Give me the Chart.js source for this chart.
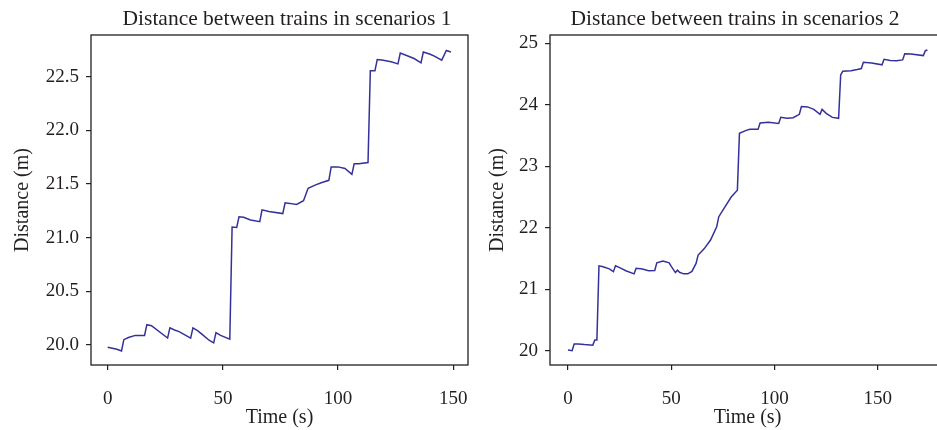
<!DOCTYPE html>
<html lang="en">
<head>
    <meta charset="UTF-8">
    <title>Distance between trains</title>
    <script src="https://cdn.jsdelivr.net/npm/chart.js"></script>
    <style>
        html, body { margin: 0; padding: 0; background: #fff; overflow: hidden; }
        body { width: 937px; height: 430px; position: relative; }
        #chart1 { position: absolute; left: 0; top: 0; }
        #chart2 { position: absolute; left: 470px; top: 0; }
    </style>
</head>
<body>
    <canvas id="chart1" width="480" height="430"></canvas>
    <canvas id="chart2" width="490" height="430"></canvas>

    <script>
        // Scenario 1: time (s) and distance (m)
        const time1 = [0, 2, 4, 6, 7, 9, 12, 16, 17, 19, 26, 27, 29, 31, 36, 37, 39, 41, 44, 46,
            47, 49, 53, 54, 56, 57, 59, 62, 66, 67, 70, 76, 77, 79, 82, 85, 87, 90, 93, 96,
            97, 100, 103, 106, 107, 109, 113, 114, 116, 117, 119, 123, 126, 127, 130, 133, 136, 137, 140, 142,
            145, 147, 149];
        const dist1 = [19.98, 19.97, 19.96, 19.945, 20.05, 20.07, 20.09, 20.09, 20.19, 20.18, 20.065, 20.16, 20.14, 20.125, 20.065, 20.16, 20.135, 20.10, 20.045, 20.02,
            20.115, 20.09, 20.055, 21.10, 21.095, 21.195, 21.19, 21.165, 21.15, 21.26, 21.245, 21.225, 21.325, 21.32, 21.31, 21.345, 21.46, 21.49, 21.515, 21.535,
            21.66, 21.66, 21.645, 21.59, 21.69, 21.69, 21.70, 22.555, 22.555, 22.66, 22.655, 22.64, 22.62, 22.72, 22.695, 22.67, 22.63, 22.73, 22.71, 22.69,
            22.655, 22.745, 22.73];

        // Scenario 2: time (s) and distance (m)
        const time2 = [0, 2, 3, 5, 8, 12, 13, 14, 15, 17, 20, 22, 23, 25, 28, 32, 33, 36, 39, 42,
            43, 46, 49, 50, 52, 53, 54, 56, 58, 60, 62, 63, 66, 69, 72, 73, 76, 79, 82, 83,
            86, 88, 92, 93, 97, 102, 103, 106, 109, 112, 113, 116, 119, 122, 123, 125, 128, 131, 132, 133,
            137, 140, 142, 143, 147, 152, 153, 156, 159, 162, 163, 166, 172, 173, 174];
        const dist2 = [20.01, 20.0, 20.11, 20.11, 20.10, 20.09, 20.175, 20.175, 21.38, 21.365, 21.33, 21.285, 21.38, 21.35, 21.30, 21.25, 21.34, 21.33, 21.30, 21.305,
            21.43, 21.46, 21.43, 21.37, 21.27, 21.31, 21.275, 21.25, 21.25, 21.29, 21.42, 21.555, 21.66, 21.80, 22.015, 22.18, 22.34, 22.50, 22.61, 23.535,
            23.58, 23.60, 23.60, 23.705, 23.715, 23.695, 23.795, 23.78, 23.79, 23.845, 23.97, 23.965, 23.925, 23.845, 23.925, 23.86, 23.795, 23.78, 24.485, 24.545,
            24.555, 24.575, 24.59, 24.69, 24.68, 24.65, 24.74, 24.72, 24.715, 24.73, 24.83, 24.825, 24.80, 24.88, 24.89];

        const xTicks1 = [0, 50, 100, 150];
        const yTicks1 = [20.0, 20.5, 21.0, 21.5, 22.0, 22.5];
        const xTicks2 = [0, 50, 100, 150];
        const yTicks2 = [20, 21, 22, 23, 24, 25];

        const titles = ['Distance between trains in scenarios 1', 'Distance between trains in scenarios 2'];

        const INK = '#231f20';
        const LINE = '#35319a';
        const FONT = '"Liberation Serif", "Times New Roman", serif';

        // draws the frame round the plot area and the panel title
        const framePlugin = {
            id: 'panelFrame',
            afterDraw(chart, args, opts) {
                const { ctx, chartArea: a } = chart;
                ctx.save();
                ctx.strokeStyle = INK;
                ctx.lineWidth = 1.3;
                ctx.strokeRect(a.left, a.top, a.right - a.left, a.bottom - a.top);
                ctx.fillStyle = INK;
                ctx.font = '21.5px ' + FONT;
                ctx.textAlign = 'center';
                ctx.textBaseline = 'alphabetic';
                ctx.fillText(opts.text, opts.x, opts.y);
                ctx.restore();
            }
        };

        function makeChart(id, xs, ys, cfg) {
            const points = xs.map((t, i) => ({ x: t, y: ys[i] }));
            return new Chart(document.getElementById(id), {
                type: 'line',
                data: {
                    datasets: [{
                        data: points,
                        borderColor: LINE,
                        borderWidth: 1.5,
                        pointRadius: 0,
                        tension: 0,
                        fill: false
                    }]
                },
                options: {
                    responsive: false,
                    animation: false,
                    devicePixelRatio: 1,
                    layout: { padding: { top: 35, right: cfg.padRight, left: 0, bottom: 0 } },
                    plugins: {
                        legend: { display: false },
                        tooltip: { enabled: false },
                        panelFrame: { text: cfg.title, x: cfg.titleX, y: 25 }
                    },
                    scales: {
                        x: {
                            type: 'linear',
                            min: cfg.xMin,
                            max: cfg.xMax,
                            afterBuildTicks: s => { s.ticks = cfg.xTicks.map(v => ({ value: v })); },
                            afterFit: s => { s.height = 65; s.paddingLeft = 0; s.paddingRight = 0; },
                            grid: { drawOnChartArea: false, tickLength: 5, color: INK, lineWidth: 1.2 },
                            border: { display: false },
                            ticks: { color: INK, font: { family: FONT, size: 19 }, padding: 18, maxRotation: 0 },
                            title: { display: true, text: 'Time (s)', color: INK, font: { family: FONT, size: 20 }, padding: { top: 0, bottom: 0 } }
                        },
                        y: {
                            min: cfg.yMin,
                            max: cfg.yMax,
                            afterBuildTicks: s => { s.ticks = cfg.yTicks.map(v => ({ value: v })); },
                            afterFit: s => { s.width = cfg.yWidth; s.paddingTop = 0; s.paddingBottom = 0; },
                            grid: { drawOnChartArea: false, tickLength: 5, color: INK, lineWidth: 1.2 },
                            border: { display: false },
                            ticks: { color: INK, font: { family: FONT, size: 19 }, padding: 7, callback: cfg.fmt },
                            title: { display: true, text: 'Distance (m)', color: INK, font: { family: FONT, size: 20 }, padding: { top: cfg.yTitlePad, bottom: 0 } }
                        }
                    }
                },
                plugins: [framePlugin]
            });
        }

        makeChart('chart1', time1, dist1, {
            title: titles[0], titleX: 287,
            xMin: -7.25, xMax: 156.4, yMin: 19.814, yMax: 22.889,
            xTicks: xTicks1, yTicks: yTicks1,
            yWidth: 91, padRight: 12, yTitlePad: 11,
            fmt: v => v.toFixed(1)
        });

        makeChart('chart2', time2, dist2, {
            title: titles[1], titleX: 265,
            xMin: -8.7, xMax: 182.5, yMin: 19.767, yMax: 25.135,
            xTicks: xTicks2, yTicks: yTicks2,
            yWidth: 80, padRight: 15, yTitlePad: 16,
            fmt: v => v.toFixed(0)
        });
    </script>
</body>
</html>
